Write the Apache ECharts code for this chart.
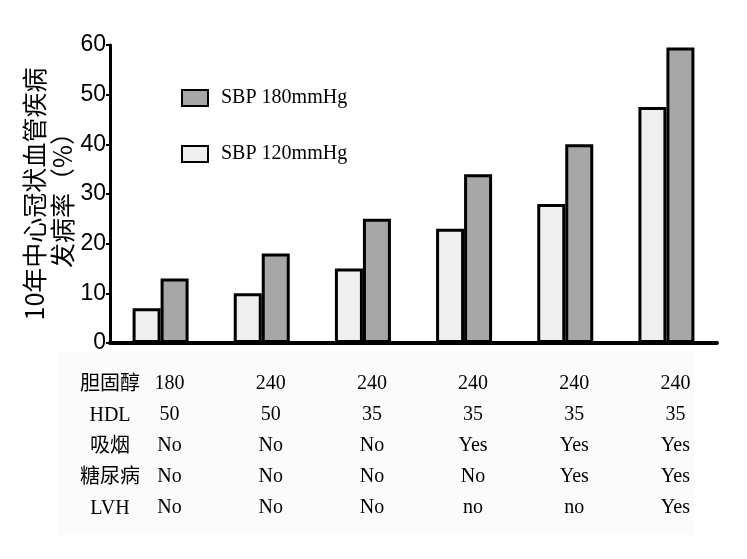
<!DOCTYPE html>
<html>
<head>
<meta charset="utf-8">
<script src="https://cdn.jsdelivr.net/npm/echarts@6/dist/echarts.min.js"></script>
<style>html,body{margin:0;padding:0;background:#fff;}#c{width:747px;height:559px;}</style>
</head>
<body>
<div id="c"></div>
<script>
// ---- data ----
var groups = ['G1', 'G2', 'G3', 'G4', 'G5', 'G6'];
var sbp120 = [7, 10, 15, 23, 28, 47.5];
var sbp180 = [13, 18, 25, 34, 40, 59.5];
var cholesterol = ['180', '240', '240', '240', '240', '240'];
var hdl = ['50', '50', '35', '35', '35', '35'];
var smoking = ['No', 'No', 'No', 'Yes', 'Yes', 'Yes'];
var diabetes = ['No', 'No', 'No', 'No', 'Yes', 'Yes'];
var lvh = ['No', 'No', 'No', 'no', 'no', 'Yes'];
var rowLabels = ['胆固醇', 'HDL', '吸烟', '糖尿病', 'LVH'];
var seriesNames = ['SBP 120mmHg', 'SBP 180mmHg'];
var yTitle = '10年中心冠状血管疾病\n发病率（%）';

var serif = '"Liberation Serif", "Noto Sans CJK SC", serif';
var chart = echarts.init(document.getElementById('c'));
chart.setOption({
  animation: false,
  backgroundColor: '#ffffff',
  grid: { left: 110, right: 30, top: 45, bottom: 216 },
  legend: {
    orient: 'vertical',
    left: 176,
    top: 83,
    itemWidth: 26,
    itemHeight: 16,
    itemGap: 36,
    icon: 'rect',
    data: [seriesNames[1], seriesNames[0]],
    textStyle: { fontFamily: serif, fontSize: 20, color: '#000', padding: [0, 0, 0, 8] }
  },
  graphic: [
    {
      type: 'rect', z: -10, silent: true,
      shape: { x: 58, y: 352, width: 636, height: 183 },
      style: { fill: '#fbfbfb' }
    },
    {
      type: 'text', x: 110, y: 369,
      style: {
        text: rowLabels.join('\n'),
        fontFamily: serif, fontSize: 20, lineHeight: 31,
        fill: '#000', align: 'center', verticalAlign: 'top'
      }
    }
  ],
  xAxis: {
    type: 'category',
    data: groups,
    axisLine: { lineStyle: { color: '#000', width: 4 } },
    axisTick: { show: false },
    axisLabel: {
      margin: 25,
      fontFamily: serif, fontSize: 20, lineHeight: 31, color: '#000',
      padding: [0, 0, 0, 18],
      formatter: function (v, i) {
        return [cholesterol[i], hdl[i], smoking[i], diabetes[i], lvh[i]].join('\n');
      }
    }
  },
  yAxis: {
    type: 'value',
    min: 0, max: 60, interval: 10,
    name: yTitle,
    nameLocation: 'middle',
    nameRotate: 90,
    nameGap: 34,
    nameMoveOverlap: false,
    nameTextStyle: { fontFamily: '"Noto Sans CJK SC", serif', fontSize: 25, lineHeight: 28, color: '#000', align: 'center' },
    splitLine: { show: false },
    axisLine: { show: true, lineStyle: { color: '#000', width: 3 } },
    axisTick: { show: true, length: 4, lineStyle: { color: '#000', width: 2 } },
    axisLabel: { fontFamily: '"Liberation Sans Narrow", "Liberation Sans", sans-serif', fontSize: 23, color: '#000', margin: 4 }
  },
  series: [
    {
      name: seriesNames[0], type: 'bar', data: sbp120,
      barWidth: 28, barGap: '0%',
      itemStyle: { color: '#efefef', borderColor: '#000', borderWidth: 3 }
    },
    {
      name: seriesNames[1], type: 'bar', data: sbp180,
      barWidth: 28, barGap: '0%',
      itemStyle: { color: '#a7a7a7', borderColor: '#000', borderWidth: 3 }
    }
  ]
});
</script>
</body>
</html>
